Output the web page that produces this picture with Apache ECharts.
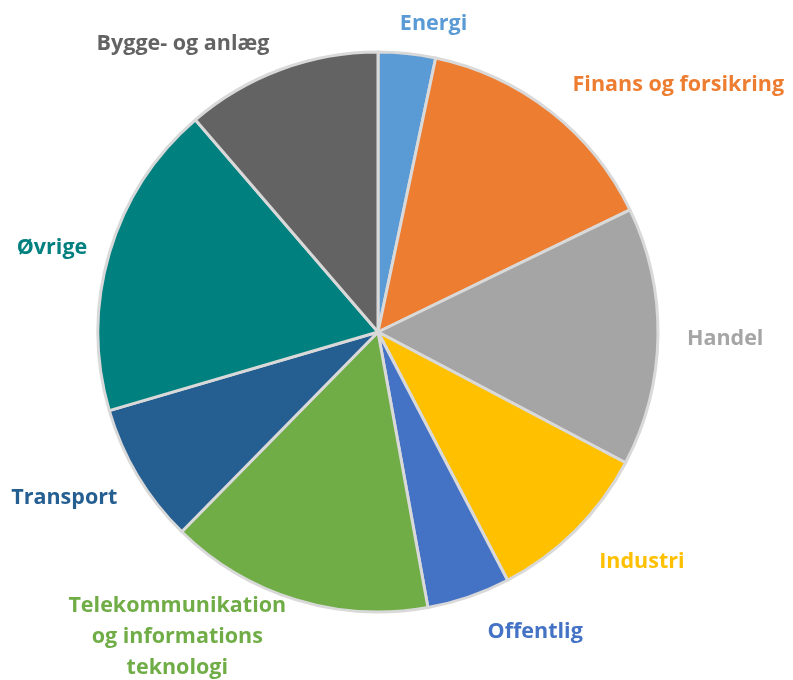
<!DOCTYPE html>
<html>
<head>
<meta charset="utf-8">
<script src="https://cdn.jsdelivr.net/npm/echarts@6/dist/echarts.min.js"></script>
<style>
  html, body { margin: 0; padding: 0; background: #fff; }
  #chart { width: 793px; height: 680px; }
</style>
</head>
<body>
<div id="chart"></div>
<script>
// sektorer, med uret fra kl. 12
var sectors = ['Energi', 'Finans og forsikring', 'Handel', 'Industri', 'Offentlig',
  'Telekommunikation\nog informations\nteknologi', 'Transport', 'Øvrige', 'Bygge- og anlæg'];
var shares = [3.3, 14.5, 14.9, 9.6, 4.8, 15.2, 8.1, 18.2, 11.3];
var colors = ['#5B9BD5', '#ED7D31', '#A5A5A5', '#FFC000', '#4472C4',
  '#70AD47', '#255E91', '#00807F', '#636363'];
// små justeringer af etiketterne (som i Excel)
var labelShift = [[-14, -12], [6, -12], [6, 2], [6, 19], [8, 18], [-108, 20], [0, 13], [0, 0], [0, -9]];

var data = sectors.map(function (name, i) {
  return {
    name: name,
    value: shares[i],
    itemStyle: { color: colors[i] },
    label: { color: colors[i] }
  };
});

var chart = echarts.init(document.getElementById('chart'));
chart.setOption({
  animation: false,
  series: [
    {
      type: 'pie',
      center: [378, 332],
      radius: 280,
      startAngle: 90,
      clockwise: true,
      avoidLabelOverlap: false,
      itemStyle: {
        borderColor: '#D9D9D9',
        borderWidth: 3
      },
      label: {
        show: true,
        position: 'outside',
        fontFamily: 'Open Sans',
        fontWeight: 'bold',
        fontSize: 21.5,
        lineHeight: 31
      },
      labelLine: { show: false, length: 18, length2: 0 },
      labelLayout: function (params) {
        var s = labelShift[params.dataIndex];
        var out = { dx: s[0], dy: s[1] };
        if (params.dataIndex === 5) {
          out.align = 'center';
        }
        return out;
      },
      data: data
    }
  ]
});
</script>
</body>
</html>
